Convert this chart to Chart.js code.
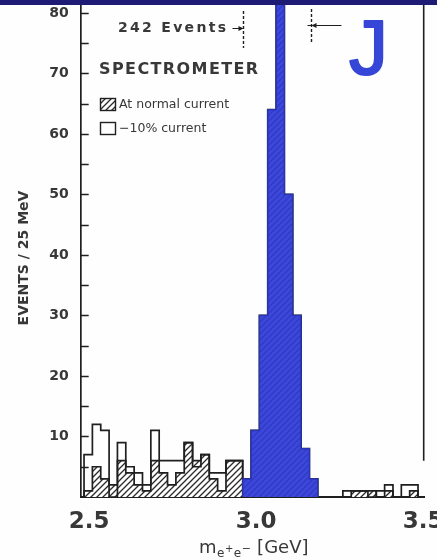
<!DOCTYPE html>
<html>
<head>
<meta charset="utf-8">
<script src="https://cdn.jsdelivr.net/npm/chart.js@4.4.1/dist/chart.umd.min.js"></script>
<style>
  html, body { margin: 0; padding: 0; background: #fff; }
  #wrap { position: relative; width: 437px; height: 560px; overflow: hidden; background: #fefefe; }
  #band { position: absolute; left: 0; top: 0; width: 437px; height: 5px; background: #1d1b74; }
  canvas { display: block; }
</style>
</head>
<body>
<div id="wrap">
  <canvas id="c" width="437" height="560"></canvas>
  <div id="band"></div>
</div>
<script>
// e+e- invariant mass histogram, 25 MeV bins from 2.5 to 3.5 GeV
const binStart = 2.5;
const binWidth = 0.025;
const massTicks = [2.5, 3.0, 3.5];
const countTicks = [0, 5, 10, 15, 20, 25, 30, 35, 40, 45, 50, 55, 60, 65, 70, 75, 80];
const countLabels = ['', '', '10', '', '20', '', '30', '', '40', '', '50', '', '60', '', '70', '', '80'];

// events per bin, magnet at normal current (hatched)
const normalCurrent = [
  1, 5, 3, 2, 6, 4, 2, 1, 6, 4,
  2, 4, 9, 6, 7, 3, 1, 6, 6, 3,
  11, 30, 64, 86, 50, 30, 8, 3, 0, 0,
  0, 0, 1, 1, 1, 0, 1, 0, 0, 1
];
// events per bin, magnet current lowered by 10% (open); hidden under the peak
const minusTenCurrent = [
  7, 12, 11, 0, 9, 5, 4, 2, 11, 6,
  6, 6, 9, 5, 7, 4, 4, 6, 6, null,
  null, null, null, null, null, null, null, null, 0, 0,
  0, 1, 1, 1, 0, 1, 2, 0, 2, 2
];
// bins of the J peak, painted blue
const peakFirstBin = 19;
const peakLastBin = 27;

// mass window holding the 242 events
const windowLow = 2.976;
const windowHigh = 3.18;

const binEdge = i => binStart + i * binWidth;

// histogram outline as stepped points; a null bin breaks the outline
function histogramPoints(counts, first, last) {
  const pts = [];
  let inRun = false;
  for (let i = first; i <= last; i++) {
    const c = counts[i];
    if (c === null) {
      if (inRun) {
        pts.push({ x: binEdge(i), y: 0 });
        pts.push({ x: binEdge(i), y: null });
        inRun = false;
      }
      continue;
    }
    if (!inRun) { pts.push({ x: binEdge(i), y: 0 }); inRun = true; }
    pts.push({ x: binEdge(i), y: c });
  }
  if (inRun) pts.push({ x: binEdge(last + 1), y: 0 });
  return pts;
}

function hatchPattern() {
  const s = 6;
  const c = document.createElement('canvas');
  c.width = s; c.height = s;
  const g = c.getContext('2d');
  g.fillStyle = '#fefefe';
  g.fillRect(0, 0, s, s);
  g.strokeStyle = '#2a2a2a';
  g.lineWidth = 1.3;
  g.beginPath();
  g.moveTo(-1, s + 1); g.lineTo(s + 1, -1);
  g.moveTo(-1, 1); g.lineTo(1, -1);
  g.moveTo(s - 1, s + 1); g.lineTo(s + 1, s - 1);
  g.stroke();
  return g.createPattern(c, 'repeat');
}

const ink = '#1f1f1f';
const labelInk = '#383838';

function arrowHead(ctx, x, y, dir, len, half) {
  ctx.beginPath();
  ctx.moveTo(x, y);
  ctx.lineTo(x - dir * len, y - half);
  ctx.lineTo(x - dir * len, y + half);
  ctx.closePath();
  ctx.fill();
}

const decor = {
  id: 'decor',
  afterDraw(chart) {
    const { ctx, chartArea: a, scales: { x, y } } = chart;
    ctx.save();

    // tick marks pointing into the plot
    ctx.strokeStyle = ink;
    ctx.lineWidth = 1.5;
    countTicks.forEach(v => {
      if (v === 0) return;
      const py = Math.round(y.getPixelForValue(v)) + 0.5;
      ctx.beginPath();
      ctx.moveTo(a.left, py);
      ctx.lineTo(a.left + 8, py);
      ctx.stroke();
    });

    // right frame
    ctx.lineWidth = 1.6;
    ctx.beginPath();
    ctx.moveTo(a.right - 1, a.top);
    ctx.lineTo(a.right - 1, y.getPixelForValue(6));
    ctx.stroke();

    // mass window markers
    const xl = Math.round(x.getPixelForValue(windowLow)) + 0.5;
    const xh = Math.round(x.getPixelForValue(windowHigh)) + 0.5;
    ctx.setLineDash([3, 2]);
    ctx.lineWidth = 1.4;
    ctx.beginPath();
    ctx.moveTo(xl, 11); ctx.lineTo(xl, 48);
    ctx.moveTo(xh, 9); ctx.lineTo(xh, 43);
    ctx.stroke();
    ctx.setLineDash([]);
    ctx.fillStyle = ink;
    ctx.lineWidth = 1.2;
    ctx.beginPath();
    ctx.moveTo(xl - 11, 28.5); ctx.lineTo(xl - 3, 28.5);
    ctx.moveTo(xh + 3, 25.5); ctx.lineTo(xh + 30, 25.5);
    ctx.moveTo(xh - 4, 25.5); ctx.lineTo(xh, 25.5);
    ctx.stroke();
    arrowHead(ctx, xl, 28.5, 1, 5, 2.5);
    arrowHead(ctx, xh, 25.5, -1, 5, 2.5);

    // annotations
    ctx.fillStyle = labelInk;
    ctx.textBaseline = 'middle';
    ctx.textAlign = 'left';
    ctx.font = 'bold 14px "DejaVu Sans"';
    ctx.letterSpacing = '2.3px';
    ctx.fillText('242 Events', 118, 28);
    ctx.font = 'bold 16px "DejaVu Sans"';
    ctx.letterSpacing = '1.4px';
    ctx.fillText('SPECTROMETER', 99, 70);
    ctx.letterSpacing = '0px';

    // legend
    const sw = 15, sh = 12;
    ctx.fillStyle = hatch;
    ctx.fillRect(100, 98, sw, sh);
    ctx.strokeStyle = ink;
    ctx.lineWidth = 1.4;
    ctx.strokeRect(100.5, 98.5, sw, sh);
    ctx.strokeRect(100.5, 122.5, sw, sh);
    ctx.fillStyle = labelInk;
    ctx.font = '12.5px "DejaVu Sans"';
    ctx.fillText('At normal current', 119, 104.5);
    ctx.fillText('\u221210% current', 119, 129);

    // J
    ctx.fillStyle = '#3646d6';
    ctx.strokeStyle = '#3646d6';
    ctx.lineWidth = 2;
    ctx.lineJoin = 'round';
    ctx.font = '78px "Liberation Sans"';
    ctx.textBaseline = 'alphabetic';
    ctx.fillText('J', 349, 74);
    ctx.strokeText('J', 349, 74);

    // y axis title
    ctx.save();
    ctx.translate(24, 258);
    ctx.rotate(-Math.PI / 2);
    ctx.textAlign = 'center';
    ctx.textBaseline = 'middle';
    ctx.fillStyle = labelInk;
    ctx.font = 'bold 14px "DejaVu Sans"';
    ctx.fillText('EVENTS / 25 MeV', 0, 0);
    ctx.restore();

    // x axis title: m with e+e- subscript
    const parts = [
      { t: 'm', size: 18, dy: 0 },
      { t: 'e', size: 12, dy: 4 },
      { t: '+', size: 10, dy: -1 },
      { t: 'e', size: 12, dy: 4 },
      { t: '\u2212', size: 11, dy: -1 },
      { t: ' [GeV]', size: 18, dy: 0 }
    ];
    let px = 199;
    const base = 553;
    ctx.fillStyle = labelInk;
    ctx.textAlign = 'left';
    ctx.textBaseline = 'alphabetic';
    parts.forEach(p => {
      ctx.font = p.size + 'px "DejaVu Sans"';
      ctx.fillText(p.t, px, base + p.dy);
      px += ctx.measureText(p.t).width + 0.5;
    });

    ctx.restore();
  }
};

const hatch = hatchPattern();

new Chart(document.getElementById('c'), {
  type: 'line',
  data: {
    datasets: [
      {
        label: 'J',
        data: histogramPoints(normalCurrent, peakFirstBin, peakLastBin),
        stepped: true,
        fill: 'origin',
        backgroundColor: 'rgba(46, 58, 214, 0.93)',
        borderColor: '#2a36b4',
        borderWidth: 1.2,
        pointRadius: 0,
        order: 0
      },
      {
        label: '-10% current',
        data: histogramPoints(minusTenCurrent, 0, minusTenCurrent.length - 1),
        stepped: true,
        fill: false,
        borderColor: ink,
        borderWidth: 1.7,
        pointRadius: 0,
        order: 1
      },
      {
        label: 'At normal current',
        data: histogramPoints(normalCurrent, 0, normalCurrent.length - 1),
        stepped: true,
        fill: 'origin',
        backgroundColor: hatch,
        borderColor: ink,
        borderWidth: 1.7,
        pointRadius: 0,
        order: 2
      }
    ]
  },
  options: {
    responsive: false,
    animation: false,
    events: [],
    layout: { padding: { top: 5, right: 12.3, left: 0, bottom: 0 } },
    plugins: { legend: { display: false }, tooltip: { enabled: false } },
    scales: {
      x: {
        type: 'linear',
        min: 2.49,
        max: 3.52,
        afterBuildTicks: s => { s.ticks = massTicks.map(v => ({ value: v })); },
        afterFit: s => { s.height = 63; s.paddingLeft = 0; s.paddingRight = 0; },
        grid: { display: true, drawOnChartArea: false, drawTicks: false },
        border: { display: true, color: ink, width: 2 },
        ticks: {
          autoSkip: false,
          maxRotation: 0,
          padding: 11,
          labelOffset: 5,
          color: labelInk,
          font: { family: 'DejaVu Sans', size: 23, weight: 'bold' },
          callback: v => v.toFixed(1)
        }
      },
      y: {
        min: 0,
        max: 81.3,
        afterBuildTicks: s => { s.ticks = countTicks.map(v => ({ value: v })); },
        afterFit: s => { s.width = 80.7; s.paddingTop = 0; s.paddingBottom = 0; },
        grid: { display: true, drawOnChartArea: false, drawTicks: false },
        border: { display: true, color: ink, width: 1.7 },
        ticks: {
          autoSkip: false,
          padding: 12,
          color: labelInk,
          font: { family: 'DejaVu Sans', size: 14, weight: 'bold' },
          callback: (v, i) => countLabels[i]
        }
      }
    }
  },
  plugins: [decor]
});
</script>
</body>
</html>
